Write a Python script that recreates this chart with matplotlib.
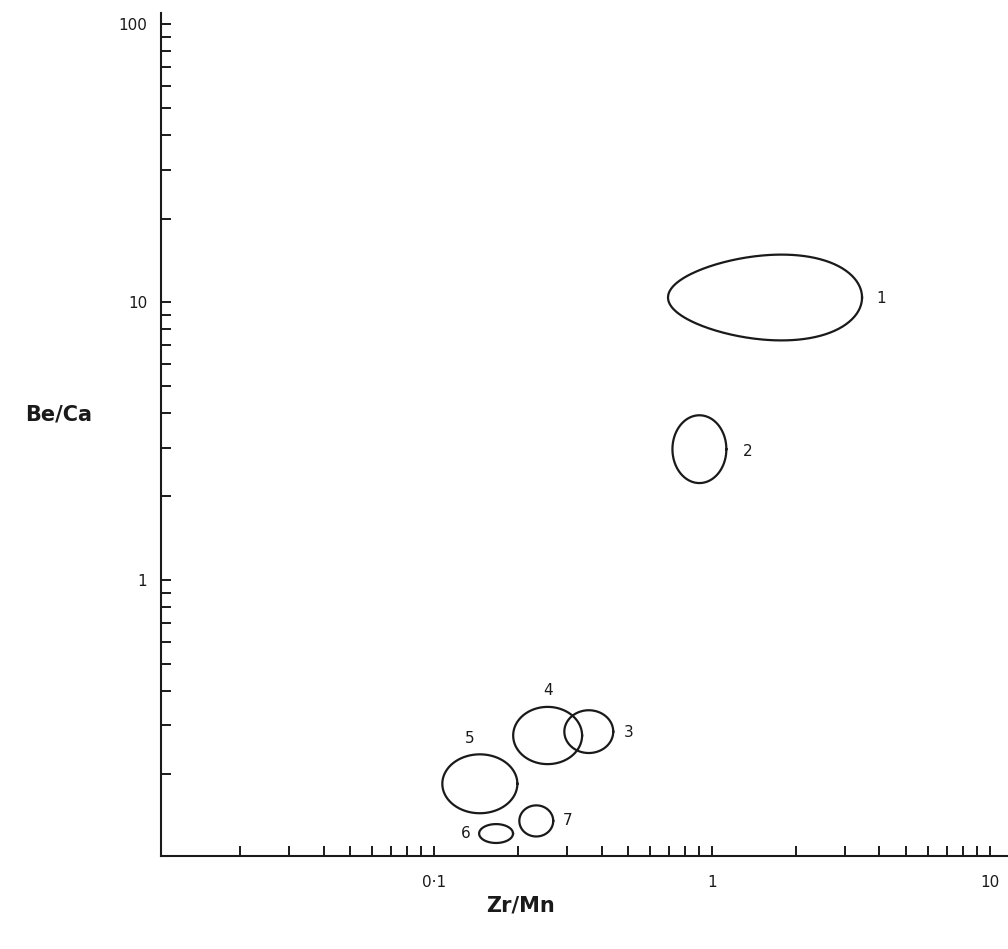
import numpy as np
import matplotlib
matplotlib.use('Agg')
import matplotlib.pyplot as plt
from matplotlib.ticker import LogLocator, NullFormatter

# Campos (centro e semi-eixos em décadas log10)
regioes = ['1', '2', '3', '4', '5', '6', '7']
centro_zr_mn = [1.55, 0.90, 0.36, 0.256, 0.146, 0.167, 0.233]
centro_be_ca = [10.4, 2.96, 0.285, 0.276, 0.185, 0.1225, 0.136]
semi_x = [0.349, 0.097, 0.088, 0.124, 0.135, 0.061, 0.061]
semi_y = [0.152, 0.122, 0.077, 0.103, 0.106, 0.034, 0.056]
assimetria = [0.18, 0.0, 0.0, 0.0, 0.0, 0.0, 0.0]

# Posicao dos numeros
rotulo_x = [4.06, 1.34, 0.502, 0.257, 0.1346, 0.130, 0.303]
rotulo_y = [10.3, 2.91, 0.284, 0.402, 0.270, 0.123, 0.136]

fig = plt.figure(figsize=(10.08, 9.49), dpi=100)
ax = fig.add_axes([0.160, 0.098, 0.840, 0.888])
ax.set_xscale('log')
ax.set_yscale('log')
ax.set_xlim(0.01043, 11.6)
ax.set_ylim(0.1017, 109.6)

t = np.linspace(0, 2 * np.pi, 300)
for i in range(len(regioes)):
    cx = np.log10(centro_zr_mn[i])
    cy = np.log10(centro_be_ca[i])
    u = np.cos(t)
    v = np.sin(t)
    lx = cx + semi_x[i] * u
    ly = cy + semi_y[i] * v * (1 + assimetria[i] * u)
    ax.plot(10 ** lx, 10 ** ly, color='#1a1a1a', lw=1.6)
    ax.text(rotulo_x[i], rotulo_y[i], regioes[i], fontsize=11,
            color='#1a1a1a', ha='center', va='center')

for lado in ['top', 'right']:
    ax.spines[lado].set_visible(False)
for lado in ['left', 'bottom']:
    ax.spines[lado].set_linewidth(1.5)
    ax.spines[lado].set_color('#1a1a1a')

ax.set_xticks([0.1, 1, 10], labels=['0·1', '1', '10'])
ax.set_yticks([1, 10, 100], labels=['1', '10', '100'])
ax.xaxis.set_minor_locator(LogLocator(base=10, subs=np.arange(2, 10)))
ax.yaxis.set_minor_locator(LogLocator(base=10, subs=np.arange(2, 10)))
ax.xaxis.set_minor_formatter(NullFormatter())
ax.yaxis.set_minor_formatter(NullFormatter())
ax.tick_params(axis='both', which='both', direction='in', width=1.4,
               color='#1a1a1a', labelcolor='#1a1a1a', labelsize=11)
ax.tick_params(axis='both', which='both', length=7)
ax.tick_params(axis='x', pad=14)
ax.tick_params(axis='y', pad=10)

fig.text(0.058, 0.563, 'Be/Ca', fontsize=15, fontweight='bold',
         color='#1a1a1a', ha='center', va='center')
fig.text(0.516, 0.046, 'Zr/Mn', fontsize=15, fontweight='bold',
         color='#1a1a1a', ha='center', va='center')

fig.savefig('out.png', dpi=100, facecolor='white')
